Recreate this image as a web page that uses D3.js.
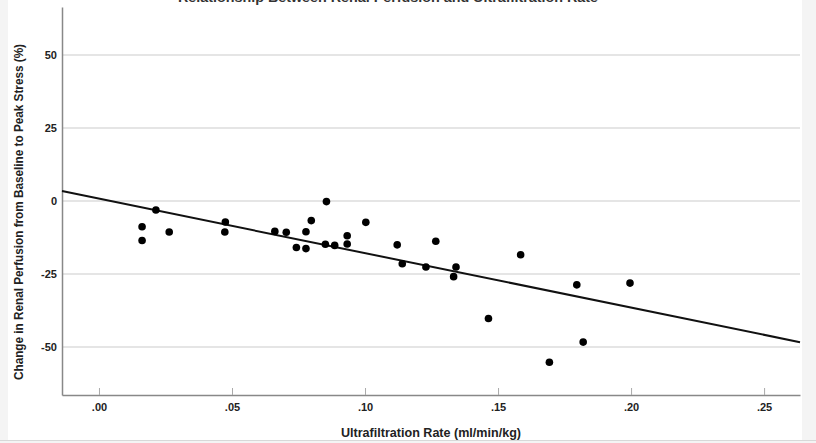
<html>
<head>
<meta charset="utf-8">
<script src="https://d3js.org/d3.v7.min.js"></script>
<style>
  body { margin: 0; background: #f4f4f4; }
  text { font-family: "Liberation Sans Narrow", "Liberation Sans", Arial, sans-serif; }
</style>
</head>
<body>
<script>
// ultrafiltration rate (ml/min/kg)
var ufRate = [0.0162, 0.0162, 0.0214, 0.0264, 0.0475, 0.0473, 0.0661, 0.0704, 0.0742, 0.0778,
              0.0778, 0.0798, 0.0855, 0.0851, 0.0886, 0.0933, 0.0933, 0.1003, 0.1121, 0.1140,
              0.1229, 0.1266, 0.1342, 0.1333, 0.1464, 0.1585, 0.1796, 0.1820, 0.1693, 0.1996];
// change in renal perfusion (%)
var perfChange = [-8.8, -13.5, -3.1, -10.6, -7.2, -10.6, -10.4, -10.7, -15.9, -10.5,
                  -16.3, -6.7, -0.2, -14.8, -15.2, -11.9, -14.7, -7.3, -15.0, -21.5,
                  -22.6, -13.8, -22.6, -25.9, -40.2, -18.4, -28.7, -48.3, -55.2, -28.1];
var xTicks = [0, 0.05, 0.10, 0.15, 0.20, 0.25];
var yTicks = [-50, -25, 0, 25, 50];
var fitIntercept = 0.8;
var fitSlope = -186.4;

var W = 816, H = 443;
var svg = d3.select("body").append("svg")
    .attr("width", W)
    .attr("height", H);

// white panel
svg.append("rect")
    .attr("x", 8).attr("y", 0)
    .attr("width", 794).attr("height", 440)
    .style("fill", "#fff");
svg.append("line")
    .attr("x1", 0).attr("x2", W).attr("y1", 440.5).attr("y2", 440.5)
    .style("stroke", "#d8d8d8");

var x = d3.scaleLinear().domain([-0.0139, 0.2635]).range([62, 800]);
var y = d3.scaleLinear().domain([-66.4, 66.4]).range([395, 7]);

// gridlines
svg.append("g").selectAll("line")
    .data(yTicks)
    .enter()
    .append("line")
    .attr("x1", 62).attr("x2", 800)
    .attr("y1", d => y(d)).attr("y2", d => y(d))
    .style("stroke", "#dcdcdc")
    .style("stroke-width", "1.5px");

// axes
var xAxis = svg.append("g")
    .attr("transform", "translate(0,395)")
    .call(d3.axisBottom(x).tickValues(xTicks).tickSizeInner(-7).tickSizeOuter(0)
        .tickFormat(d => d3.format(".2f")(d).replace(/^0/, "")));
xAxis.select(".domain").style("stroke", "#888").style("stroke-width", "1.5px");
xAxis.selectAll(".tick line").style("stroke", "#aaa");
xAxis.selectAll(".tick text")
    .attr("y", 8)
    .style("font-size", "11px").style("font-weight", "bold").style("fill", "#222");

var yAxis = svg.append("g")
    .attr("transform", "translate(62,0)")
    .call(d3.axisLeft(y).tickValues(yTicks).tickSize(0)
        .tickFormat(d => String(d)));
yAxis.select(".domain").style("stroke", "#888").style("stroke-width", "1.5px");
yAxis.selectAll(".tick text")
    .attr("x", -5)
    .style("font-size", "11px").style("font-weight", "bold").style("fill", "#222");

// fit line
var xd = x.domain();
svg.append("line")
    .attr("x1", x(xd[0])).attr("y1", y(fitIntercept + fitSlope * xd[0]))
    .attr("x2", x(xd[1])).attr("y2", y(fitIntercept + fitSlope * xd[1]))
    .style("stroke", "#111")
    .style("stroke-width", "2px");

// points
svg.append("g").selectAll("circle")
    .data(ufRate.map((d, i) => [d, perfChange[i]]))
    .enter()
    .append("circle")
    .attr("cx", d => x(d[0]))
    .attr("cy", d => y(d[1]))
    .attr("r", 3.8)
    .style("fill", "#000");

// titles
svg.append("text")
    .attr("x", 388).attr("y", 2)
    .attr("text-anchor", "middle")
    .attr("textLength", 420).attr("lengthAdjust", "spacingAndGlyphs")
    .style("font-size", "13px").style("font-weight", "bold").style("fill", "#333")
    .text("Relationship Between Renal Perfusion and Ultrafiltration Rate");

svg.append("text")
    .attr("x", 431).attr("y", 437)
    .attr("text-anchor", "middle")
    .attr("textLength", 180).attr("lengthAdjust", "spacingAndGlyphs")
    .style("font-size", "13px").style("font-weight", "bold").style("fill", "#222")
    .text("Ultrafiltration Rate (ml/min/kg)");

svg.append("text")
    .attr("transform", "translate(23,212) rotate(-90)")
    .attr("text-anchor", "middle")
    .attr("textLength", 336).attr("lengthAdjust", "spacingAndGlyphs")
    .style("font-size", "12px").style("font-weight", "bold").style("fill", "#222")
    .text("Change in Renal Perfusion from Baseline to Peak Stress (%)");
</script>
</body>
</html>
